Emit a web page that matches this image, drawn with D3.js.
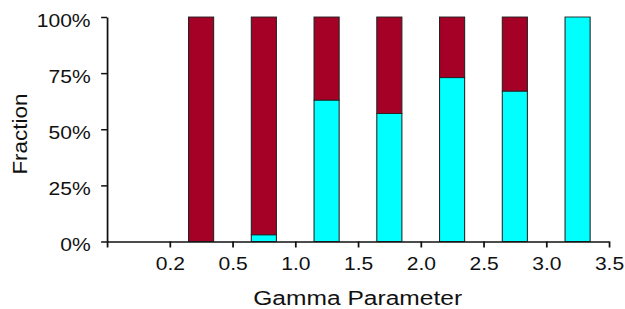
<!DOCTYPE html>
<html>
<head>
<meta charset="utf-8">
<script src="https://cdn.jsdelivr.net/npm/d3@7"></script>
<style>
  body { margin: 0; background: #fff; }
  text { font-family: "Liberation Sans", Arial, sans-serif; fill: #111; }
</style>
</head>
<body>
<svg id="chart"></svg>
<script>
// tick labels along the gamma axis (tick 0 has no label)
var gammaTicks = ["", "0.2", "0.5", "1.0", "1.5", "2.0", "2.5", "3.0", "3.5"]
// one bar per interval between ticks (interval index 1..7)
var binIndex = [1, 2, 3, 4, 5, 6, 7]
var cyanFrac = [0.00, 0.03, 0.63, 0.57, 0.73, 0.67, 1.00]
var redFrac = [1.00, 0.97, 0.37, 0.43, 0.27, 0.33, 0.00]
var yTicks = [0, 0.25, 0.5, 0.75, 1]

// picture is a bit stretched sideways, so draw in a narrower box
var W = 534, H = 309
var margin = { top: 17, left: 91.4, right: W - 520.3, bottom: H - 241.5 }
var width = W - margin.left - margin.right
var height = H - margin.top - margin.bottom

var svg = d3.select("#chart")
    .attr("width", 625)
    .attr("height", 309)
    .attr("viewBox", "0 0 " + W + " " + H)
    .attr("preserveAspectRatio", "none")

var g = svg.append("g")
    .attr("transform", "translate(" + margin.left + "," + margin.top + ")")

var x = d3.scaleLinear().domain([0, gammaTicks.length - 1]).range([0, width])
var y = d3.scaleLinear().domain([0, 1]).range([height, 0])

var barW = (x(1) - x(0)) * 0.4

var stacked = binIndex.map(function (b, i) {
    return { bin: b, cyan: cyanFrac[i], red: redFrac[i] }
})

// cyan at the bottom
g.selectAll(".cyan")
    .data(stacked.filter(d => d.cyan > 0))
    .join("rect")
    .attr("class", "cyan")
    .attr("x", d => x(d.bin + 0.5) - barW / 2)
    .attr("width", barW)
    .attr("y", d => y(d.cyan))
    .attr("height", d => y(0) - y(d.cyan))
    .attr("fill", "#00ffff")
    .attr("stroke", "#222")
    .attr("stroke-width", 0.9)

// red on top
g.selectAll(".red")
    .data(stacked.filter(d => d.red > 0))
    .join("rect")
    .attr("class", "red")
    .attr("x", d => x(d.bin + 0.5) - barW / 2)
    .attr("width", barW)
    .attr("y", d => y(d.cyan + d.red))
    .attr("height", d => y(d.cyan) - y(d.cyan + d.red))
    .attr("fill", "#a50026")
    .attr("stroke", "#222")
    .attr("stroke-width", 0.9)

var xAxis = g.append("g")
    .attr("transform", "translate(0," + height + ")")
    .call(d3.axisBottom(x)
        .tickValues(d3.range(gammaTicks.length))
        .tickFormat(i => gammaTicks[i])
        .tickSize(6)
        .tickSizeOuter(0)
        .tickPadding(10))
xAxis.selectAll("text").style("font-size", "18px").attr("fill", "#111")

var yAxis = g.append("g")
    .call(d3.axisLeft(y)
        .tickValues(yTicks)
        .tickFormat(d3.format(".0%"))
        .tickSize(5)
        .tickSizeOuter(0)
        .tickPadding(9))
yAxis.selectAll("text").style("font-size", "18px").attr("dy", "0.5em").attr("fill", "#111")

svg.selectAll(".domain, .tick line").attr("stroke", "#111").attr("stroke-width", 1.5)

g.append("text")
    .attr("text-anchor", "middle")
    .attr("x", width / 2 + (305.6 - margin.left - width / 2))
    .attr("y", 305 - margin.top)
    .style("font-size", "21px")
    .text("Gamma Parameter")

svg.append("text")
    .attr("text-anchor", "middle")
    .attr("transform", "translate(23,134) rotate(-90) scale(1.25,1)")
    .style("font-size", "18px")
    .text("Fraction")
</script>
</body>
</html>
